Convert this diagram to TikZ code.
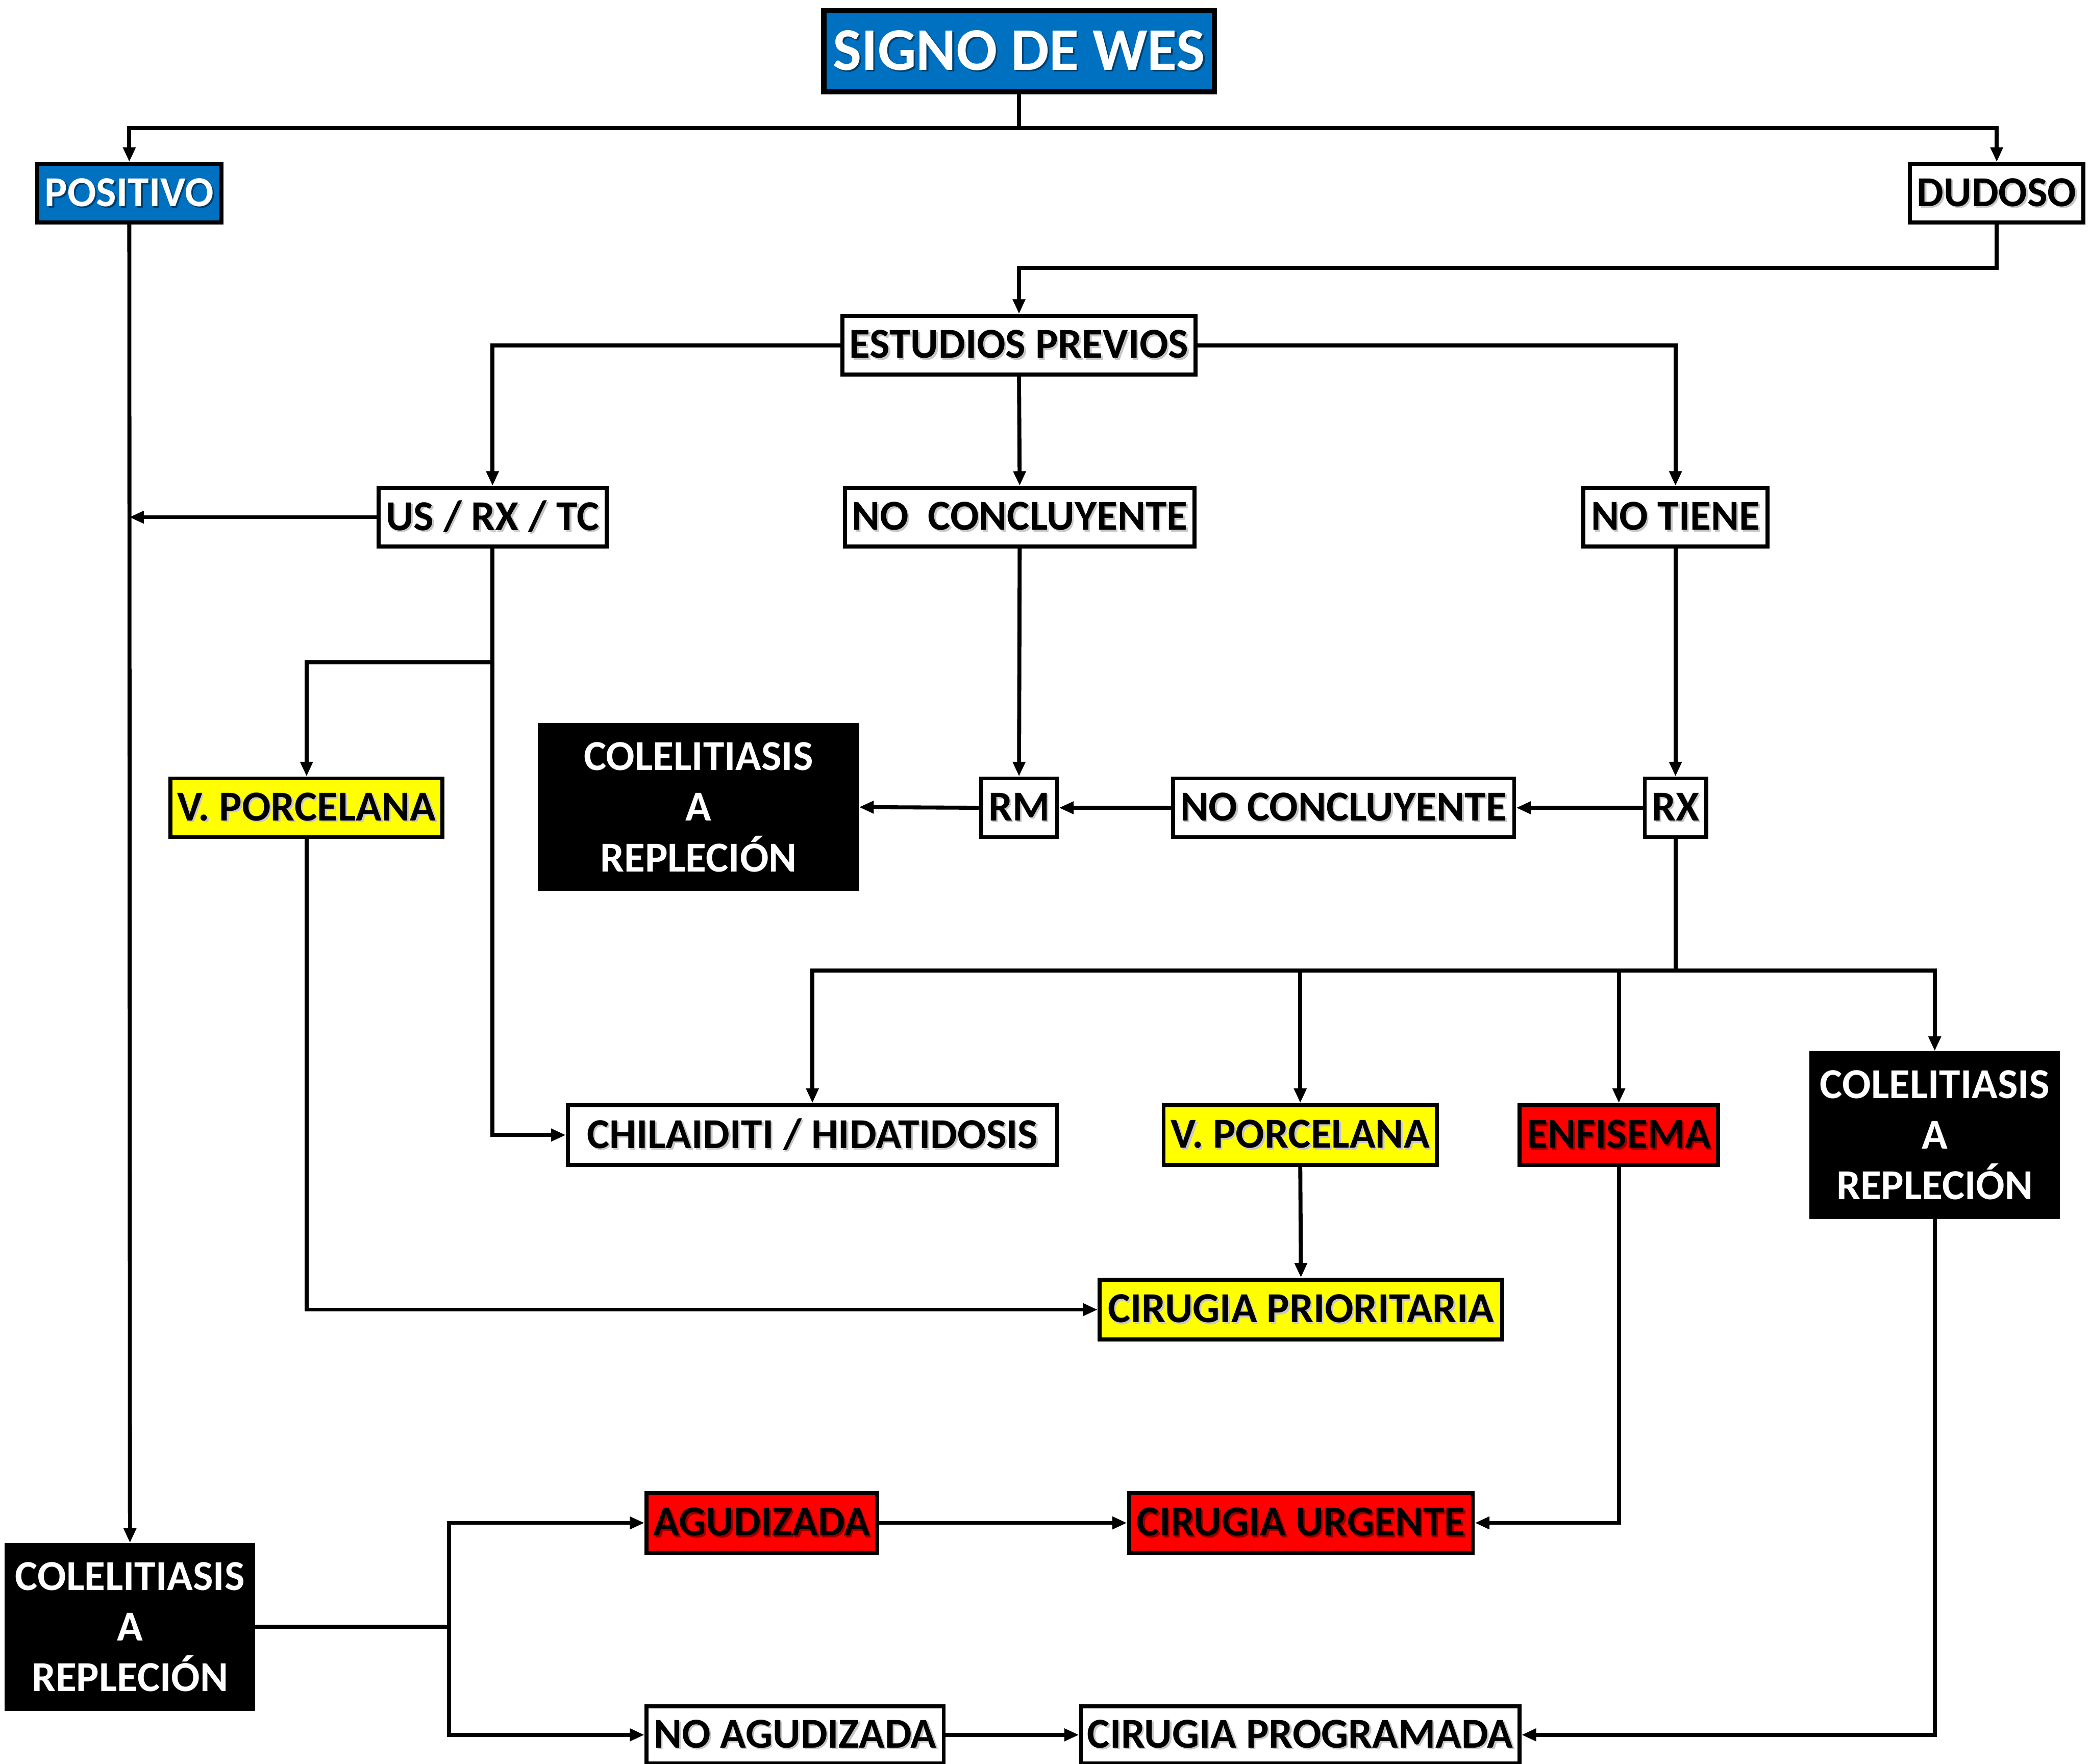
\documentclass[tikz,border=0pt]{standalone}
\usepackage{fontspec}
\setmainfont{Carlito}
\usetikzlibrary{arrows.meta}
\definecolor{wesblue}{RGB}{0,112,192}
\definecolor{wesyellow}{RGB}{255,255,0}
\definecolor{wesred}{RGB}{255,0,0}
\newcommand\shd[2]{\leavevmode\rlap{\kern1.3pt\raisebox{-1.3pt}{\color{#1}#2}}#2}
\tikzset{
  box/.style={draw=black, line width=3pt, inner sep=0pt, align=center,
    font=\fontsize{32}{38}\selectfont\bfseries},
  wbox/.style={box, fill=white, text=black},
  bluebox/.style={box, fill=wesblue, text=white},
  ybox/.style={box, fill=wesyellow, text=black},
  rbox/.style={box, fill=wesred, text=black},
  kbox/.style={box, fill=black, text=white, draw=black},
  arr/.style={line width=3pt, -{Triangle[length=11pt,width=9pt]}},
  ln/.style={line width=3pt},
}
\begin{document}
\begin{tikzpicture}[x=1pt,y=-1pt]
\useasboundingbox (0,0) rectangle (1568,1323);
% nodes
\node[bluebox, line width=4pt, minimum width=293pt, minimum height=61pt,
  font=\fontsize{45.5}{52}\selectfont\bfseries] (signo) at (764.5,38.5) {\shd{wesblue!55!black}{SIGNO DE WES}};
\node[bluebox, minimum width=138pt, minimum height=44pt] (pos) at (97,145) {\shd{wesblue!55!black}{POSITIVO}};
\node[wbox, minimum width=130pt, minimum height=44pt] (dud) at (1498,145) {\shd{black!22}{DUDOSO}};
\node[wbox, minimum width=265pt, minimum height=44pt] (est) at (764.5,259) {\shd{black!22}{ESTUDIOS PREVIOS}};
\node[wbox, minimum width=171pt, minimum height=44pt] (us) at (369.5,388) {\shd{black!22}{US / RX / TC}};
\node[wbox, minimum width=262pt, minimum height=44pt] (nc1) at (765,388) {\shd{black!22}{NO\ \ CONCLUYENTE}};
\node[wbox, minimum width=138pt, minimum height=44pt] (nt) at (1257,388) {\shd{black!22}{NO TIENE}};
\node[ybox, minimum width=204pt, minimum height=44pt] (vp1) at (230,606) {\shd{black!22}{V. PORCELANA}};
\node[kbox, minimum width=238pt, minimum height=123pt] (col1) at (524,605.5) {COLELITIASIS\\A\\REPLECIÓN};
\node[wbox, minimum width=57pt, minimum height=44pt] (rm) at (764.5,606) {\shd{black!22}{RM}};
\node[wbox, minimum width=256pt, minimum height=44pt] (nc2) at (1008,606) {\shd{black!22}{NO CONCLUYENTE}};
\node[wbox, minimum width=46pt, minimum height=44pt] (rx) at (1257,606) {\shd{black!22}{RX}};
\node[wbox, minimum width=367pt, minimum height=45pt] (chi) at (609.5,851.5) {\shd{black!22}{CHILAIDITI / HIDATIDOSIS}};
\node[ybox, minimum width=205pt, minimum height=45pt] (vp2) at (975.5,851.5) {\shd{black!22}{V. PORCELANA}};
\node[rbox, minimum width=149pt, minimum height=45pt] (enf) at (1214.5,851.5) {\shd{wesred!60!black}{ENFISEMA}};
\node[kbox, minimum width=185pt, minimum height=123pt] (col2) at (1451.5,851.5) {COLELITIASIS\\A\\REPLECIÓN};
\node[ybox, minimum width=302pt, minimum height=45pt] (cp) at (976,982.5) {\shd{black!22}{CIRUGIA PRIORITARIA}};
\node[kbox, minimum width=185pt, minimum height=123pt] (col3) at (97.5,1220.5) {COLELITIASIS\\A\\REPLECIÓN};
\node[rbox, minimum width=173pt, minimum height=45pt] (agu) at (571.5,1142.5) {\shd{wesred!60!black}{AGUDIZADA}};
\node[rbox, minimum width=258pt, minimum height=45pt] (cu) at (976,1142.5) {\shd{wesred!60!black}{CIRUGIA URGENTE}};
\node[wbox, minimum width=223pt, minimum height=43pt] (noag) at (596.5,1301.5) {\shd{black!22}{NO AGUDIZADA}};
\node[wbox, minimum width=329pt, minimum height=43pt] (cprog) at (975.5,1301.5) {\shd{black!22}{CIRUGIA PROGRAMADA}};
% junctions
\coordinate (j1) at (764.5,96);
\coordinate (j2) at (764.5,201);
\coordinate (j3) at (369.5,497);
\coordinate (j4) at (1257,728);
\coordinate (j5) at (337,1220.5);
% connectors
\draw[ln] (signo.south) -- (j1);
\draw[arr] (j1) -| (pos.north);
\draw[arr] (j1) -| (dud.north);
\draw[arr] (dud.south) |- (j2) -- (est.north);
\draw[arr] (est.west) -| (us.north);
\draw[arr] (est.south) -- (nc1.north);
\draw[arr] (est.east) -| (nt.north);
\draw[arr] (pos.south) -- (col3.north);
\draw[arr] (us.west) -- (pos.south |- us.west);
\draw[arr] (us.south) |- (chi.west);
\draw[arr] (j3) -| (vp1.north);
\draw[arr] (vp1.south) |- (cp.west);
\draw[arr] (nc1.south) -- (rm.north);
\draw[arr] (rm.west) -- (col1.east);
\draw[arr] (nc2.west) -- (rm.east);
\draw[arr] (rx.west) -- (nc2.east);
\draw[arr] (nt.south) -- (rx.north);
\draw[ln] (rx.south) -- (j4);
\draw[arr] (j4) -| (chi.north);
\draw[arr] (j4) -| (vp2.north);
\draw[arr] (j4) -| (enf.north);
\draw[arr] (j4) -| (col2.north);
\draw[arr] (vp2.south) -- (cp.north);
\draw[arr] (enf.south) |- (cu.east);
\draw[arr] (col2.south) |- (cprog.east);
\draw[ln] (col3.east) -- (j5);
\draw[arr] (j5) |- (agu.west);
\draw[arr] (j5) |- (noag.west);
\draw[arr] (agu.east) -- (cu.west);
\draw[arr] (noag.east) -- (cprog.west);
\end{tikzpicture}
\end{document}
